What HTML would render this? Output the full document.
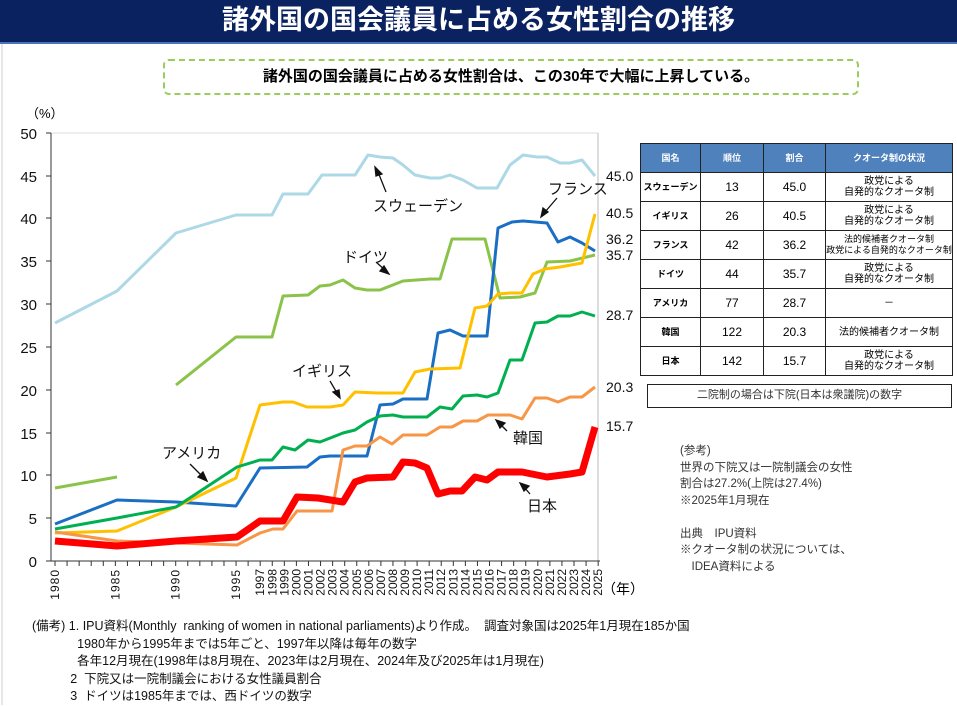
<!DOCTYPE html>
<html><head><meta charset="utf-8"><style>
body{margin:0;width:957px;height:705px;background:#fff;overflow:hidden;font-family:"Liberation Sans","Noto Sans CJK JP",sans-serif;position:relative}
.hdr{position:absolute;left:0;top:0;width:957px;height:42px;background:#0b2261;border-bottom:2px solid #4a74b5;color:#fff;font-weight:bold;font-size:27px;text-align:center;line-height:40px;letter-spacing:0px}
.sub{position:absolute;left:163px;top:59px;width:696px;height:36px;border:2px dashed #9acd5a;border-radius:6px;box-sizing:border-box;text-align:center;font-size:15px;font-weight:bold;line-height:32px}
table{position:absolute;left:640px;top:143px;border-collapse:collapse;font-size:10px}
td,th{border:1.5px solid #222;text-align:center;padding:0;height:28px;line-height:11px}
th{background:#4f81bd;color:#fff;height:28px;font-size:9px}
td.n{font-weight:bold;font-size:9px}
td.v{font-size:12px}
.note{position:absolute;left:647px;top:384px;width:305px;height:24px;border:1.5px solid #222;box-sizing:border-box;text-align:center;font-size:11px;line-height:21px;color:#333}
.ref{position:absolute;left:680px;top:443px;font-size:11.5px;line-height:16.5px;color:#333}
.foot{position:absolute;left:32px;top:618px;font-size:12.5px;line-height:17.5px;color:#111;white-space:pre}
</style></head><body>
<div class="hdr">諸外国の国会議員に占める女性割合の推移</div>
<div class="sub">諸外国の国会議員に占める女性割合は、この30年で大幅に上昇している。</div>
<svg width="957" height="705" style="position:absolute;left:0;top:0">
<line x1="2" y1="44" x2="2" y2="705" stroke="#ccc"/>
<line x1="51" y1="133" x2="598" y2="133" stroke="#ddd"/>
<line x1="598" y1="133" x2="598" y2="561" stroke="#bbb"/>
<line x1="51" y1="133" x2="51" y2="561" stroke="#333"/>
<line x1="46" y1="561" x2="600" y2="561" stroke="#333"/>
<g stroke="#333">
<line x1="46" y1="133" x2="51" y2="133"/><line x1="46" y1="176" x2="51" y2="176"/><line x1="46" y1="218" x2="51" y2="218"/><line x1="46" y1="261" x2="51" y2="261"/><line x1="46" y1="304" x2="51" y2="304"/><line x1="46" y1="347" x2="51" y2="347"/><line x1="46" y1="390" x2="51" y2="390"/><line x1="46" y1="433" x2="51" y2="433"/><line x1="46" y1="475" x2="51" y2="475"/><line x1="46" y1="518" x2="51" y2="518"/>
</g>
<g font-size="15" text-anchor="end" fill="#111">
<text x="37" y="139">50</text><text x="37" y="182">45</text><text x="37" y="224">40</text><text x="37" y="267">35</text><text x="37" y="310">30</text><text x="37" y="353">25</text><text x="37" y="396">20</text><text x="37" y="439">15</text><text x="37" y="481">10</text><text x="37" y="524">5</text><text x="37" y="567">0</text>
</g>
<text x="26" y="118" font-size="13">（%）</text>
<g id="xt" stroke="#333"></g>
<g font-size="12" fill="#111" id="xl"></g>
<text x="602" y="594" font-size="14">（年）</text>
<g fill="none" stroke-linejoin="round" stroke-width="3">
<polyline stroke="#add8e6" points="55,323 117,291 176,233 236,215 259,215 272,215 283,194 308,194 322,175 355,175 368,155 380,157 393,158 403,165 415,175 430,178 440,178 450,175 463,180 477,188 497,188 510,165 523,155 537,157 547,157 560,163 570,163 582,160 595,176"/>
<polyline stroke="#8bc34a" points="55,488 117,477"/>
<polyline stroke="#8bc34a" points="176,385 236,337 272,337 283,296 308,295 320,286 330,285 343,280 355,288 367,290 380,290 403,281 430,279 440,279 452,239 485,239 500,298 520,297 535,293 547,262 570,261 595,255"/>
<polyline stroke="#1a6fc4" points="55,524 117,500 176,502 236,506 260,468 307,467 320,457 330,456 367,456 380,405 393,404 403,399 427,399 438,333 450,330 463,336 487,336 498,228 512,222 523,221 547,223 558,242 570,237 582,243 595,251"/>
<polyline stroke="#ffc000" points="55,533 117,531 176,507 236,478 260,405 283,402 293,402 307,407 330,407 343,405 355,392 377,393 403,393 415,372 430,369 460,368 475,308 487,306 498,294 510,293 522,293 533,274 545,269 560,267 582,263 595,214"/>
<polyline stroke="#00b050" points="55,529 117,518 176,507 237,467 260,460 272,460 283,447 295,450 308,440 320,442 343,433 355,430 367,422 380,416 393,415 403,417 427,417 440,407 452,409 463,396 477,395 487,397 498,393 510,360 522,360 535,323 547,322 558,316 570,316 582,312 595,316"/>
<polyline stroke="#f79646" points="55,532 117,541 176,543 237,545 260,533 273,529 283,529 297,511 332,511 343,450 355,446 367,446 380,437 392,444 403,435 427,435 440,427 452,427 463,421 477,421 488,415 510,415 522,419 535,398 547,398 558,402 570,397 582,397 595,387"/>
<polyline stroke="#ff0000" stroke-width="7" points="55,541 117,546 176,541 237,537 260,521 283,521 297,497 318,498 343,502 355,482 367,478 393,477 403,462 415,463 427,468 438,494 450,491 462,491 475,477 487,480 498,472 522,472 547,477 570,474 582,472 595,427"/>
</g>
<g font-size="15" fill="#111">
<text x="373" y="211">スウェーデン</text><text x="343" y="262">ドイツ</text><text x="548" y="194">フランス</text><text x="292" y="376">イギリス</text><text x="162" y="458">アメリカ</text><text x="513" y="443">韓国</text><text x="527" y="511">日本</text>
</g>
<g stroke="#111" stroke-width="1.3" fill="#111">
<line x1="386" y1="192" x2="378" y2="172"/><polygon points="375,167 382,174 376,176"/>
<line x1="376" y1="262" x2="385" y2="270"/><polygon points="389,274 380,271 384,266"/>
<line x1="557" y1="198" x2="545" y2="212"/><polygon points="541,217 543,208 548,212"/>
<line x1="330" y1="381" x2="337" y2="393"/><polygon points="340,398 333,392 339,390"/>
<line x1="190" y1="464" x2="203" y2="477"/><polygon points="207,481 198,477 203,472"/>
<line x1="507" y1="431" x2="500" y2="424"/><polygon points="496,420 505,423 500,428"/>
<line x1="530" y1="494" x2="524" y2="487"/><polygon points="520,483 529,486 524,491"/>
</g>
<g font-size="14" fill="#111">
<text x="606" y="181">45.0</text><text x="606" y="218">40.5</text><text x="606" y="244">36.2</text><text x="606" y="260">35.7</text><text x="606" y="320">28.7</text><text x="606" y="392">20.3</text><text x="606" y="431">15.7</text>
</g>
</svg>
<table>
<tr><th style="width:59px">国名</th><th style="width:62px">順位</th><th style="width:61px">割合</th><th style="width:126px">クオータ制の状況</th></tr>
<tr><td class="n">スウェーデン</td><td class="v">13</td><td class="v">45.0</td><td>政党による<br>自発的なクオータ制</td></tr>
<tr><td class="n">イギリス</td><td class="v">26</td><td class="v">40.5</td><td>政党による<br>自発的なクオータ制</td></tr>
<tr><td class="n">フランス</td><td class="v">42</td><td class="v">36.2</td><td style="font-size:9px">法的候補者クオータ制<br>政党による自発的なクオータ制</td></tr>
<tr><td class="n">ドイツ</td><td class="v">44</td><td class="v">35.7</td><td>政党による<br>自発的なクオータ制</td></tr>
<tr><td class="n">アメリカ</td><td class="v">77</td><td class="v">28.7</td><td>－</td></tr>
<tr><td class="n">韓国</td><td class="v">122</td><td class="v">20.3</td><td>法的候補者クオータ制</td></tr>
<tr><td class="n">日本</td><td class="v">142</td><td class="v">15.7</td><td>政党による<br>自発的なクオータ制</td></tr>
</table>
<div class="note">二院制の場合は下院(日本は衆議院)の数字</div>
<div class="ref">(参考)<br>世界の下院又は一院制議会の女性<br>割合は27.2%(上院は27.4%)<br>※2025年1月現在<br><br>出典　IPU資料<br>※クオータ制の状況については、<br>　IDEA資料による</div>
<div class="foot">(備考) 1. IPU資料(Monthly  ranking of women in national parliaments)より作成。  調査対象国は2025年1月現在185か国
             1980年から1995年までは5年ごと、1997年以降は毎年の数字
             各年12月現在(1998年は8月現在、2023年は2月現在、2024年及び2025年は1月現在)
           2  下院又は一院制議会における女性議員割合
           3  ドイツは1985年までは、西ドイツの数字</div>
<script>
var xt=document.getElementById('xt'),xl=document.getElementById('xl'),ns='http://www.w3.org/2000/svg';
for(var y=1980;y<=2025;y++){var x=55+(y-1980)*12.07;
var l=document.createElementNS(ns,'line');l.setAttribute('x1',x);l.setAttribute('x2',x);l.setAttribute('y1',561);l.setAttribute('y2',566);xt.appendChild(l);
if(y<=1995&&y%5||y==1996)continue;
var t=document.createElementNS(ns,'text');t.setAttribute('transform','translate('+(x+4)+',569) rotate(-90)');t.setAttribute('text-anchor','end');
t.textContent=y;if(y<1997)t.setAttribute('letter-spacing','1');xl.appendChild(t);}
</script>
</body></html>
